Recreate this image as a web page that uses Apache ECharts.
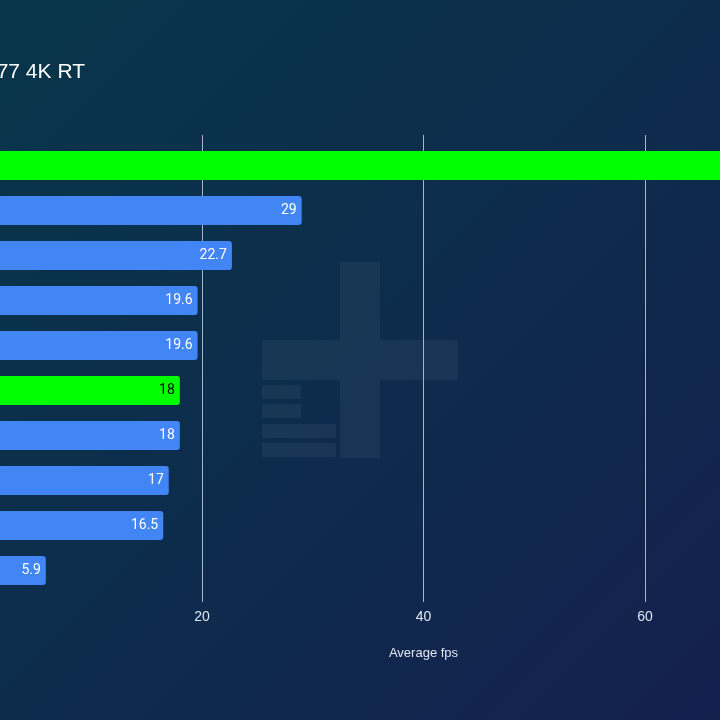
<!DOCTYPE html>
<html lang="en">
<head>
  <meta charset="UTF-8">
  <title>Cyberpunk 2077 4K RT</title>
  <style>
    html,body{margin:0;padding:0;}
    #main{
      width: 720px;
      height: 720px;
    }
  </style>
</head>
<body>
  <div id="main"></div>
  <script src="https://cdn.jsdelivr.net/npm/echarts@6/dist/echarts.min.js"></script>
  <script>
    // data
    const gpus=['RTX 4090','RTX 4080','RX 7900 XTX','RTX 3090 Ti','RX 7900 XT','RTX 4070 Ti','RTX 3090','RX 6950 XT','RTX 3080','RX 6800 XT'];
    const fps=[72,29,22.7,19.6,19.6,18,18,17,16.5,5.9];
    const highlight=[true,false,false,false,false,true,false,false,false,false];
    const xTicks=[0,20,40,60,80];

    const mainDom=document.querySelector('#main');
    const chart=echarts.init(mainDom);

    const blue='#4285f4';
    const green='#00ff00';
    const gridColor='#aab4c4';

    // watermark pieces (no overlaps so alpha stays even)
    const mark=[
      [340,262,40,196],
      [262,340,78,40],
      [380,340,78,40],
      [262,385,39,14],
      [262,404,39,14],
      [262,424,74,14],
      [262,443,74,14]
    ];

    const option={
      backgroundColor:{
        type:'linear',x:0,y:0,x2:1,y2:1,
        colorStops:[
          {offset:0,color:'#08364a'},
          {offset:0.5,color:'#0d2c4c'},
          {offset:1,color:'#15204f'}
        ]
      },
      title:{
        text:'Cyberpunk 2077 4K RT',
        right:635,
        top:62,
        padding:0,
        textStyle:{
          color:'#ffffff',
          fontFamily:'Liberation Sans, Arial, sans-serif',
          fontSize:21,
          fontWeight:'normal'
        }
      },
      graphic:mark.map(r=>({
        type:'rect',
        z:-10,
        shape:{x:r[0],y:r[1],width:r[2],height:r[3]},
        style:{fill:'rgba(120,135,165,0.11)'}
      })),
      grid:{
        left:-19.5,
        right:-146.5,
        top:143,
        bottom:127,
        containLabel:false,
        outerBoundsMode:'none'
      },
      xAxis:[
        {
          type:'value',
          position:'bottom',
          min:xTicks[0],
          max:xTicks[xTicks.length-1],
          interval:20,
          name:'Average fps',
          nameLocation:'middle',
          nameGap:54,
          nameTextStyle:{
            color:'#dfe6f0',
            fontSize:13,
            fontFamily:'Liberation Sans, Arial, sans-serif'
          },
          axisLine:{show:false},
          axisTick:{show:true,length:9,lineStyle:{color:gridColor}},
          axisLabel:{
            margin:17,
            color:'#dfe6f0',
            fontSize:14,
            fontFamily:'Liberation Sans, Arial, sans-serif',
            formatter:v=>v===0?'':v
          },
          splitLine:{show:true,lineStyle:{color:gridColor,width:1}}
        },
        {
          type:'value',
          position:'top',
          min:xTicks[0],
          max:xTicks[xTicks.length-1],
          interval:20,
          axisLine:{show:false},
          axisTick:{show:true,length:8,lineStyle:{color:gridColor}},
          axisLabel:{show:false},
          splitLine:{show:false}
        }
      ],
      yAxis:{
        type:'category',
        data:gpus,
        inverse:true,
        axisLine:{show:false},
        axisTick:{show:false},
        axisLabel:{color:'#ffffff',fontSize:14}
      },
      series:[{
        type:'bar',
        xAxisIndex:0,
        barWidth:29,
        data:fps.map((v,i)=>({
          value:v,
          itemStyle:{color:highlight[i]?green:blue},
          label:{color:highlight[i]?'#000000':'#ffffff'}
        })),
        itemStyle:{borderRadius:[0,3,3,0]},
        label:{
          show:true,
          position:'insideRight',
          distance:5,
          fontSize:14,
          fontFamily:'Roboto, sans-serif'
        }
      }]
    };
    chart.setOption(option);
  </script>
</body>
</html>
